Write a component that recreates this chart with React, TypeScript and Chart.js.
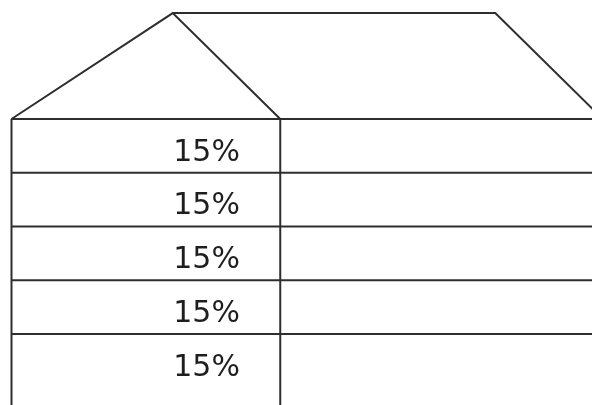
import React, { useEffect, useRef } from "react";
import { Chart, registerables } from "chart.js";

Chart.register(...registerables);

// Row contents (top to bottom), in percent
const rowValues = [15, 15, 15, 15, 15];
const rowLabels = rowValues.map((v) => `${v}%`);

// House outline, in row-height units (eave line at y = 0, rows go downward)
const leftRoofX = [0, 3, 5];
const leftRoofY = [0, 1.97, 0];
const rightRoofX = [3, 9, 11];
const rightRoofY = [1.97, 1.97, 0];
const rowBoundaries = [0, 1, 2, 3, 4];
const wallPositions = [0, 5];
const houseRight = 11;
const houseBottom = 6;
const labelColumnX = 3.63;

const UNIT = 53.75;
const ORIGIN_X = 11.5;
const ORIGIN_Y = 119;
const W = 592;
const H = 405;

const LINE = "#2e2e2e";

export default function App() {
  const ref = useRef<HTMLCanvasElement | null>(null);

  useEffect(() => {
    if (!ref.current) return;
    const lineStyle = {
      showLine: true,
      borderColor: LINE,
      borderWidth: 2,
      pointRadius: 0,
      fill: false,
      tension: 0,
    };
    const datasets: any[] = [];
    datasets.push({
      ...lineStyle,
      data: leftRoofX.map((x, i) => ({ x, y: leftRoofY[i] })),
    });
    datasets.push({
      ...lineStyle,
      data: rightRoofX.map((x, i) => ({ x, y: rightRoofY[i] })),
    });
    rowBoundaries.forEach((r) => {
      datasets.push({
        ...lineStyle,
        data: [
          { x: 0, y: -r },
          { x: houseRight, y: -r },
        ],
      });
    });
    wallPositions.forEach((w) => {
      datasets.push({
        ...lineStyle,
        data: [
          { x: w, y: 0 },
          { x: w, y: -houseBottom },
        ],
      });
    });

    const labelPlugin = {
      id: "rowLabels",
      afterDatasetsDraw(chart: any) {
        const ctx = chart.ctx;
        const xs = chart.scales.x;
        const ys = chart.scales.y;
        ctx.save();
        ctx.fillStyle = "#1e1e1e";
        ctx.font = "30px 'DejaVu Sans', Verdana, sans-serif";
        ctx.textAlign = "center";
        ctx.textBaseline = "middle";
        rowLabels.forEach((lab, i) => {
          const px = xs.getPixelForValue(labelColumnX);
          const py = ys.getPixelForValue(-(i + 0.5)) + 7;
          ctx.fillText(lab, px, py);
        });
        ctx.restore();
      },
    };

    const chart = new Chart(ref.current, {
      type: "scatter",
      data: { datasets },
      options: {
        animation: false,
        responsive: true,
        maintainAspectRatio: false,
        layout: { padding: 0 },
        plugins: {
          legend: { display: false },
          tooltip: { enabled: false },
        },
        scales: {
          x: {
            type: "linear",
            display: false,
            min: -ORIGIN_X / UNIT,
            max: (W - ORIGIN_X) / UNIT,
          },
          y: {
            type: "linear",
            display: false,
            min: -(H - ORIGIN_Y) / UNIT,
            max: ORIGIN_Y / UNIT,
          },
        },
      },
      plugins: [labelPlugin],
    });
    return () => chart.destroy();
  }, []);

  return (
    <div
      style={{
        position: "absolute",
        left: 0,
        top: 0,
        width: W,
        height: H,
        background: "#ffffff",
      }}
    >
      <canvas ref={ref} />
    </div>
  );
}
